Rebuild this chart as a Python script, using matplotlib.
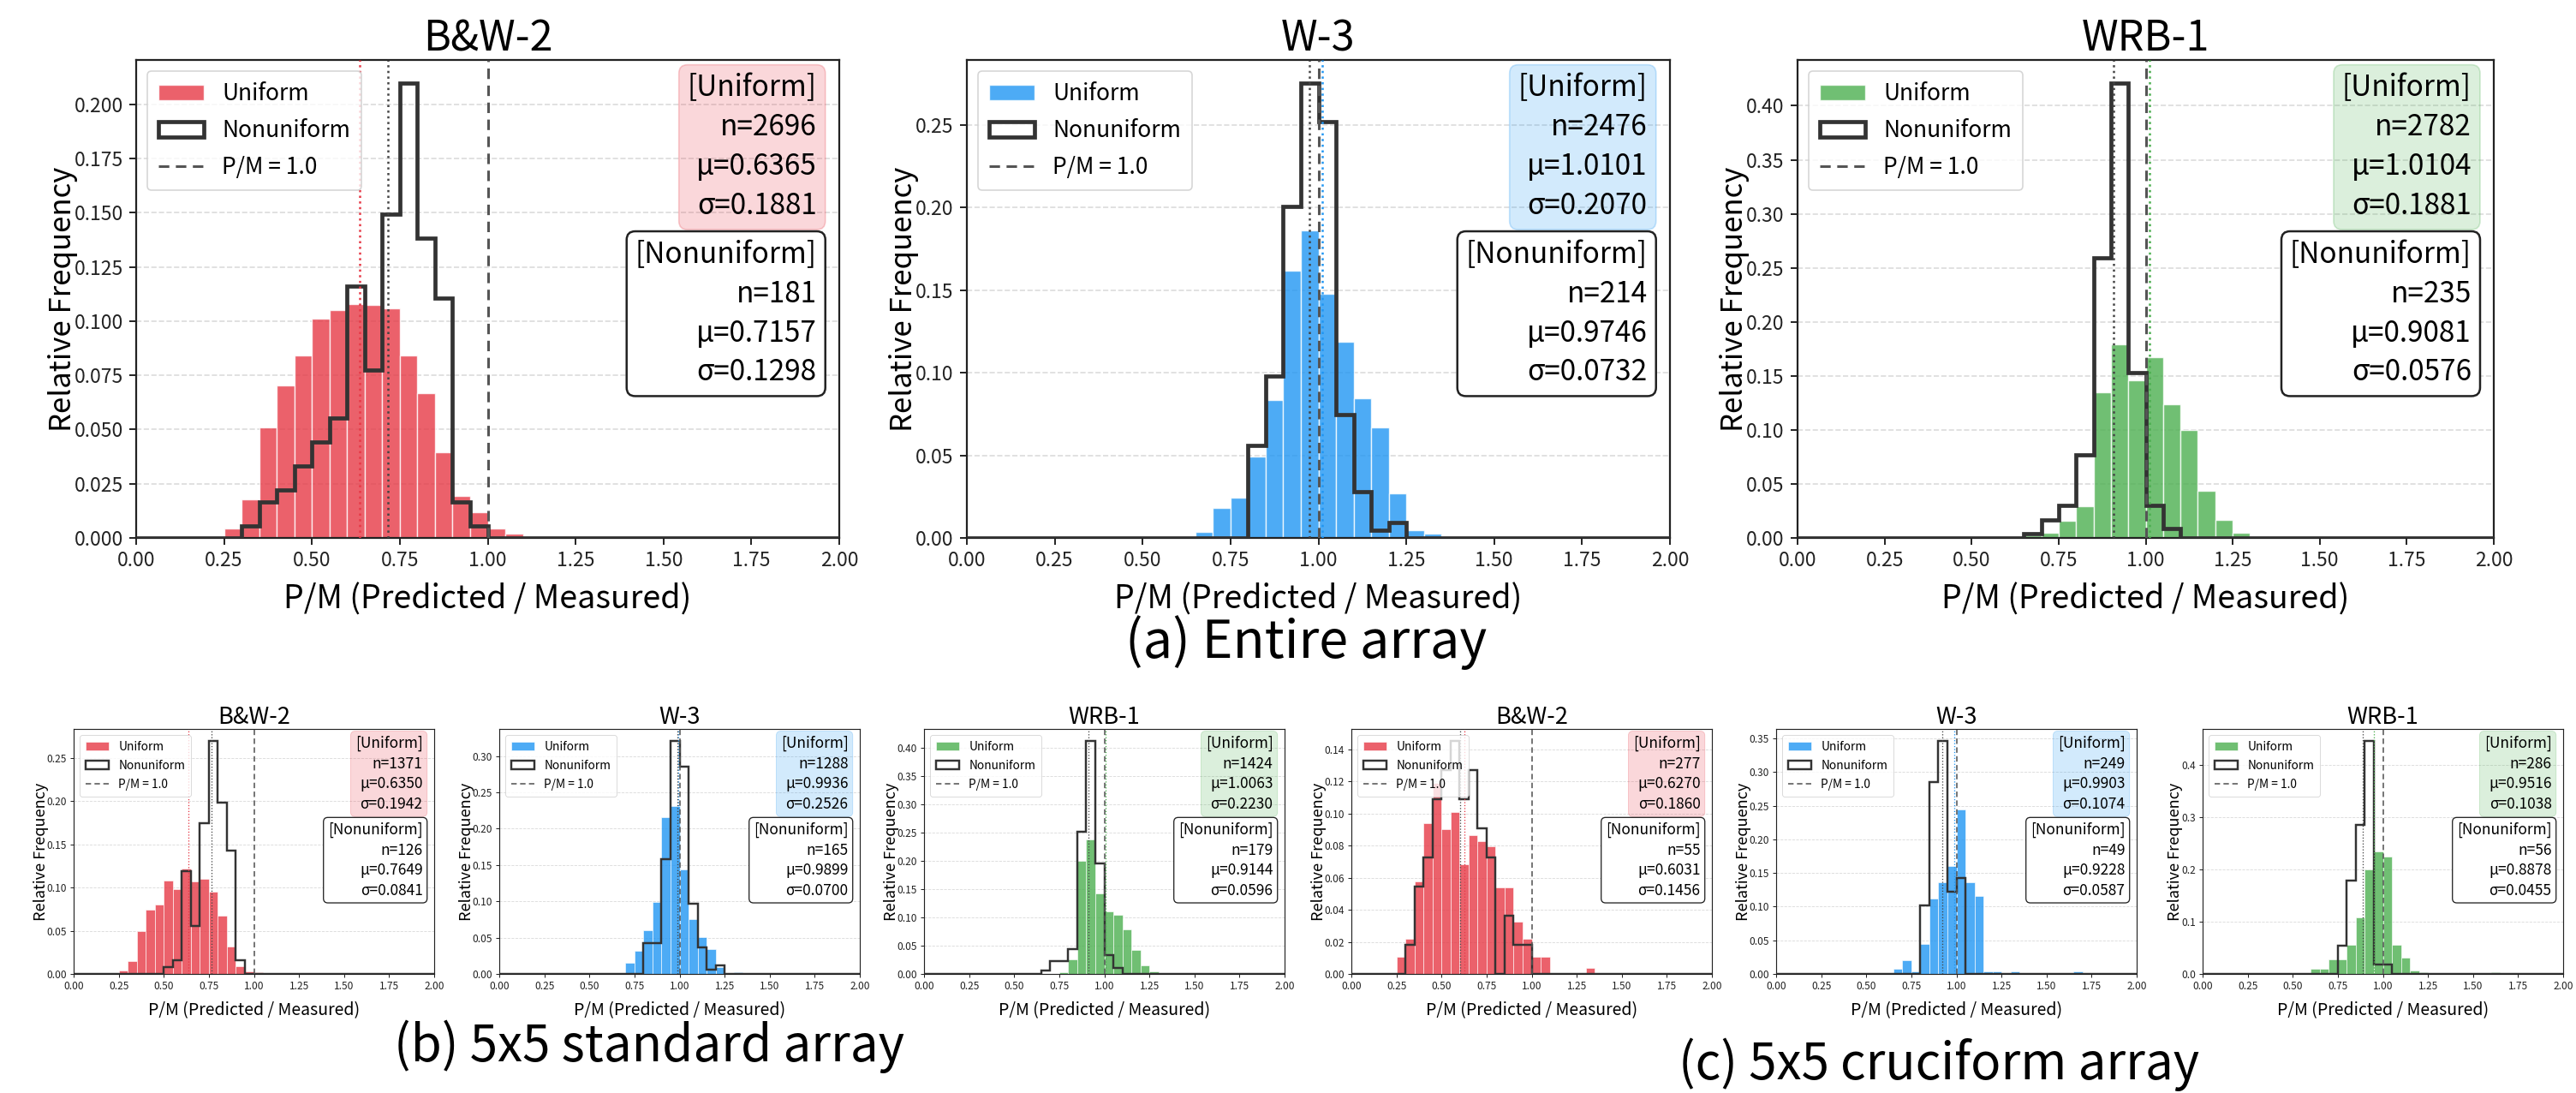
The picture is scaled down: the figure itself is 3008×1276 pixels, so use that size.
import numpy as np
import matplotlib
matplotlib.use("Agg")
import matplotlib.pyplot as plt
from matplotlib.ticker import MultipleLocator, FormatStrFormatter

plt.rcParams['font.family'] = ['Noto Sans CJK KR', 'DejaVu Sans']

# ---------------- data ----------------
bin_width = 0.05
x_range = (0.0, 2.0)
x_ticks = [0.00, 0.25, 0.50, 0.75, 1.00, 1.25, 1.50, 1.75, 2.00]

titles = ["B&W-2", "W-3", "WRB-1"]
series_colors = ["#E63946", "#2196F3", "#4CAF50"]

# (a) Entire array
a_bw2_uni_start = 0.25
a_bw2_uni = [0.0045, 0.0178, 0.0510, 0.0703, 0.0840, 0.1010, 0.1050, 0.1080, 0.1075,
             0.1057, 0.0843, 0.0667, 0.0395, 0.0192, 0.0118, 0.0042, 0.0018]
a_bw2_uni_out = {1.95: 0.0005}
a_bw2_non_start = 0.30
a_bw2_non = [0.0055, 0.0166, 0.0221, 0.0331, 0.0442, 0.0552, 0.1160, 0.0773, 0.1492,
             0.2099, 0.1381, 0.1105, 0.0166, 0.0055]
a_bw2_stats = [(2696, 0.6365, 0.1881), (181, 0.7157, 0.1298)]

a_w3_uni_start = 0.65
a_w3_uni = [0.0038, 0.0179, 0.0245, 0.0495, 0.0833, 0.1620, 0.1864, 0.1480, 0.1190,
            0.0848, 0.0667, 0.0269, 0.0048, 0.0024]
a_w3_uni_out = {}
a_w3_non_start = 0.80
a_w3_non = [0.0561, 0.0981, 0.2009, 0.2757, 0.2523, 0.0748, 0.0280, 0.0047, 0.0093]
a_w3_stats = [(2476, 1.0101, 0.2070), (214, 0.9746, 0.0732)]

a_wrb1_uni_start = 0.65
a_wrb1_uni = [0.0020, 0.0047, 0.0156, 0.0295, 0.1350, 0.1790, 0.1455, 0.1670, 0.1236,
              0.1000, 0.0436, 0.0164, 0.0044, 0.0018]
a_wrb1_uni_out = {}
a_wrb1_non_start = 0.65
a_wrb1_non = [0.0043, 0.0170, 0.0298, 0.0766, 0.2596, 0.4213, 0.1532, 0.0298, 0.0085]
a_wrb1_stats = [(2782, 1.0104, 0.1881), (235, 0.9081, 0.0576)]

# (b) 5x5 standard array
b_bw2_uni_start = 0.25
b_bw2_uni = [0.0036, 0.0146, 0.0500, 0.0740, 0.0800, 0.1080, 0.0980, 0.1220, 0.1070,
             0.1100, 0.0946, 0.0675, 0.0320, 0.0089, 0.0033, 0.0017]
b_bw2_uni_out = {1.95: 0.0007}
b_bw2_non_start = 0.50
b_bw2_non = [0.0079, 0.0159, 0.1190, 0.0556, 0.1746, 0.2698, 0.1984, 0.1429, 0.0159]
b_bw2_stats = [(1371, 0.6350, 0.1942), (126, 0.7649, 0.0841)]

b_w3_uni_start = 0.70
b_w3_uni = [0.0149, 0.0314, 0.0597, 0.0990, 0.2160, 0.2315, 0.1440, 0.0755, 0.0507,
            0.0342, 0.0094, 0.0016, 0.0020]
b_w3_uni_out = {}
b_w3_non_start = 0.80
b_w3_non = [0.0424, 0.0424, 0.1576, 0.3212, 0.2848, 0.0970, 0.0364, 0.0061, 0.0121]
b_w3_stats = [(1288, 0.9936, 0.2526), (165, 0.9899, 0.0700)]

b_wrb1_uni_start = 0.75
b_wrb1_uni = [0.0035, 0.0263, 0.2005, 0.2390, 0.1428, 0.1110, 0.1048, 0.0795, 0.0425,
              0.0147, 0.0051]
b_wrb1_uni_out = {}
b_wrb1_non_start = 0.65
b_wrb1_non = [0.0056, 0.0223, 0.0223, 0.0447, 0.2514, 0.4134, 0.1955, 0.0335, 0.0112]
b_wrb1_stats = [(1424, 1.0063, 0.2230), (179, 0.9144, 0.0596)]

# (c) 5x5 cruciform array
c_bw2_uni_start = 0.25
c_bw2_uni = [0.0108, 0.0217, 0.0578, 0.0939, 0.1191, 0.0903, 0.1011, 0.0686, 0.0866,
             0.0830, 0.0794, 0.0542, 0.0542, 0.0325, 0.0217, 0.0108, 0.0108]
c_bw2_uni_out = {1.30: 0.0036}
c_bw2_non_start = 0.30
c_bw2_non = [0.0182, 0.0545, 0.0727, 0.1091, 0.1273, 0.1455, 0.1091, 0.1273, 0.0909,
             0.0727, 0.0000, 0.0364, 0.0182, 0.0182]
c_bw2_stats = [(277, 0.6270, 0.1860), (55, 0.6031, 0.1456)]

c_w3_uni_start = 0.65
c_w3_uni = [0.0080, 0.0201, 0.0040, 0.0442, 0.1124, 0.1365, 0.1606, 0.2450, 0.1365,
            0.1165, 0.0040, 0.0040, 0.0000, 0.0040]
c_w3_uni_out = {1.65: 0.0040}
c_w3_non_start = 0.80
c_w3_non = [0.1020, 0.2857, 0.3469, 0.1224, 0.1429]
c_w3_stats = [(249, 0.9903, 0.1074), (49, 0.9228, 0.0587)]

c_wrb1_uni_start = 0.60
c_wrb1_uni = [0.0105, 0.0105, 0.0280, 0.0280, 0.0559, 0.1084, 0.1993, 0.2343, 0.2238,
              0.0559, 0.0315, 0.0070, 0.0035]
c_wrb1_uni_out = {1.60: 0.0035}
c_wrb1_non_start = 0.75
c_wrb1_non = [0.0536, 0.1786, 0.2857, 0.4464, 0.0179, 0.0179]
c_wrb1_stats = [(286, 0.9516, 0.1038), (56, 0.8878, 0.0455)]

captions = ["(a) Entire array", "(b) 5x5 standard array", "(c) 5x5 cruciform array"]

# ---------------- helpers ----------------
edges = np.linspace(x_range[0], x_range[1], int(round((x_range[1] - x_range[0]) / bin_width)) + 1)
centers = (edges[:-1] + edges[1:]) / 2


def expand(start, vals, out):
    full = np.zeros(len(centers))
    i0 = int(round((start - x_range[0]) / bin_width))
    full[i0:i0 + len(vals)] = vals
    for x, v in out.items():
        full[int(round((x - x_range[0]) / bin_width))] = v
    return full


stat_pairs = []


def draw(ax, title, color, uni, non, stats, ystep, s, ts, xpad):
    ax.hist(centers, bins=edges, weights=uni, color=color, alpha=0.8,
            edgecolor='white', linewidth=1.0 * s, label='Uniform', zorder=2)
    ax.hist(centers, bins=edges, weights=non, histtype='step', color='#333333',
            linewidth=3.4 * s, label='Nonuniform', zorder=3)
    ax.axvline(1.0, color='#555555', ls='--', lw=2.2 * s, label='P/M = 1.0',
               dashes=(4, 2.5), zorder=4)
    ax.axvline(stats[0][1], color=color, ls=':', lw=1.8 * s, zorder=4)
    ax.axvline(stats[1][1], color='#444444', ls=':', lw=1.8 * s, zorder=4)

    ax.set_xlim(*x_range)
    ax.set_ylim(0, max(uni.max(), non.max()) * 1.05)
    ax.set_xticks(x_ticks)
    ax.xaxis.set_major_formatter(FormatStrFormatter('%.2f'))
    ax.yaxis.set_major_locator(MultipleLocator(ystep))
    ax.grid(axis='y', ls='--', color='#cccccc', lw=1.2 * s, alpha=0.7)
    ax.set_axisbelow(True)
    for sp in ax.spines.values():
        sp.set_linewidth(1.6 * s)
        sp.set_color('#222222')
    ax.tick_params(labelsize=16.5 * s, width=1.4 * s, length=6 * s, pad=5 * s,
                   colors='#222222')

    ax.set_title(title, fontsize=35 * ts, pad=6 * s)
    ax.set_xlabel('P/M (Predicted / Measured)', fontsize=27 * s, labelpad=xpad)
    ax.set_ylabel('Relative Frequency', fontsize=25 * s, labelpad=-3 * s)

    leg = ax.legend(loc='upper left', fontsize=19 * s, framealpha=0.8,
                    edgecolor='#cccccc', borderpad=0.5, handlelength=2.0,
                    handletextpad=0.8, labelspacing=0.6)
    leg.get_frame().set_linewidth(1.2 * s)

    (nu, mu_u, sd_u), (nn, mu_n, sd_n) = stats
    rgb = matplotlib.colors.to_rgb(color)
    t1 = ax.text(0.968, 0.972, f"[Uniform]\nn={nu}\nμ={mu_u:.4f}\nσ={sd_u:.4f}",
                 transform=ax.transAxes, ha='right', va='top', fontsize=24 * s,
                 linespacing=1.4, zorder=6,
                 bbox=dict(boxstyle='round,pad=0.3', fc=(*rgb, 0.2),
                           ec=(*rgb, 0.25), lw=1.2 * s))
    t2 = ax.text(0.968, 0.64, f"[Nonuniform]\nn={nn}\nμ={mu_n:.4f}\nσ={sd_n:.4f}",
                 transform=ax.transAxes, ha='right', va='top', fontsize=24 * s,
                 linespacing=1.4, zorder=6,
                 bbox=dict(boxstyle='round,pad=0.3', fc='white', ec='#222222', lw=1.8 * s))
    stat_pairs.append((ax, t1, t2, 2 * s))


# ---------------- figure ----------------
W, H = 3008, 1276
fig = plt.figure(figsize=(W / 100, H / 100), dpi=100)


def add_ax(l, t, r, b):
    return fig.add_axes([l / W, 1 - b / H, (r - l) / W, (b - t) / H])


top_boxes = [(159, 70, 980, 628), (1129, 70, 1950, 628), (2099, 70, 2912, 628)]
bot_lefts = [86, 583, 1079, 1578, 2074, 2572]
bot_w, bot_t, bot_b = 421, 851, 1137

panels_a = [
    (a_bw2_uni_start, a_bw2_uni, a_bw2_uni_out, a_bw2_non_start, a_bw2_non, a_bw2_stats, 0.025),
    (a_w3_uni_start, a_w3_uni, a_w3_uni_out, a_w3_non_start, a_w3_non, a_w3_stats, 0.05),
    (a_wrb1_uni_start, a_wrb1_uni, a_wrb1_uni_out, a_wrb1_non_start, a_wrb1_non, a_wrb1_stats, 0.05),
]
panels_bc = [
    (b_bw2_uni_start, b_bw2_uni, b_bw2_uni_out, b_bw2_non_start, b_bw2_non, b_bw2_stats, 0.05),
    (b_w3_uni_start, b_w3_uni, b_w3_uni_out, b_w3_non_start, b_w3_non, b_w3_stats, 0.05),
    (b_wrb1_uni_start, b_wrb1_uni, b_wrb1_uni_out, b_wrb1_non_start, b_wrb1_non, b_wrb1_stats, 0.05),
    (c_bw2_uni_start, c_bw2_uni, c_bw2_uni_out, c_bw2_non_start, c_bw2_non, c_bw2_stats, 0.02),
    (c_w3_uni_start, c_w3_uni, c_w3_uni_out, c_w3_non_start, c_w3_non, c_w3_stats, 0.05),
    (c_wrb1_uni_start, c_wrb1_uni, c_wrb1_uni_out, c_wrb1_non_start, c_wrb1_non, c_wrb1_stats, 0.1),
]

for i, (box, p) in enumerate(zip(top_boxes, panels_a)):
    ax = add_ax(*box)
    us, uv, uo, ns, nv, st, ystep = p
    draw(ax, titles[i], series_colors[i], expand(us, uv, uo), expand(ns, nv, {}),
         st, ystep, 1.0, 1.0, 10)

for j, (l, p) in enumerate(zip(bot_lefts, panels_bc)):
    ax = add_ax(l, bot_t, l + bot_w, bot_b)
    us, uv, uo, ns, nv, st, ystep = p
    draw(ax, titles[j % 3], series_colors[j % 3], expand(us, uv, uo), expand(ns, nv, {}),
         st, ystep, 0.52, 0.56, 8)

fig.text(1525 / W, 1 - 750 / H, captions[0], ha='center', va='center', fontsize=44)
fig.text(758 / W, 1 - 1222 / H, captions[1], ha='center', va='center', fontsize=42)
fig.text(2264 / W, 1 - 1243 / H, captions[2], ha='center', va='center', fontsize=42)

# place the nonuniform box just below the uniform box
fig.canvas.draw()
renderer = fig.canvas.get_renderer()
for ax, t1, t2, gap in stat_pairs:
    bb1 = t1.get_bbox_patch().get_window_extent(renderer)
    bb2 = t2.get_bbox_patch().get_window_extent(renderer)
    anchor = ax.transAxes.transform((0.968, 0.64))[1]
    off = bb2.y1 - anchor
    new_anchor = bb1.y0 - gap - off
    new_y = ax.transAxes.inverted().transform((0, new_anchor))[1]
    t2.set_y(new_y)

fig.savefig('out.png', dpi=100, facecolor='white')
